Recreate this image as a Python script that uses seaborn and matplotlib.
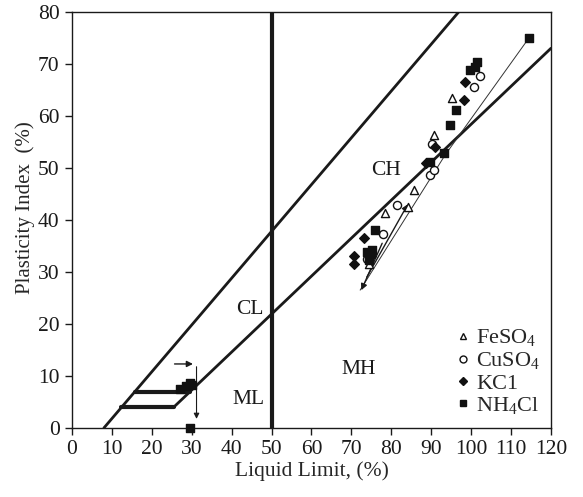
import numpy as np
import pandas as pd
import matplotlib
matplotlib.use("Agg")
import matplotlib.pyplot as plt
import seaborn as sns
from matplotlib.lines import Line2D

# Data
feso4_ll = [74.5, 78.4, 84.3, 85.7, 90.6, 95.2]
feso4_pi = [31.5, 41.3, 42.5, 45.8, 56.3, 63.4]

cuso4_ll = [74.0, 78.0, 81.5, 89.7, 90.6, 90.1, 100.8, 102.3]
cuso4_pi = [32.5, 37.2, 42.9, 48.7, 49.6, 54.6, 65.6, 67.7]

kcl_ll = [70.7, 70.7, 73.2, 75.0, 88.8, 91.0, 98.2, 98.5]
kcl_pi = [33.1, 31.5, 36.5, 33.0, 51.0, 54.0, 63.1, 66.6]

nh4cl_ll = [73.9, 75.1, 74.3, 75.9, 89.7, 93.1, 94.7, 96.2, 99.7, 101.4, 101.0,
            114.5, 27.0, 28.5, 29.5, 30.0, 29.5]
nh4cl_pi = [33.9, 34.2, 32.3, 38.1, 51.2, 52.8, 58.3, 61.2, 68.8, 70.4, 69.5,
            75.0, 7.5, 8.0, 8.7, 8.2, 0.0]

series_names = ["FeSO4", "CuSO4", "KC1", "NH4Cl"]
legend_labels = [r"FeSO$_4$", r"CuSO$_4$", "KC1", r"NH$_4$Cl"]

# chart lines
u_line_ll = [8, 96.9]
u_line_pi = [0, 80]
a_line_ll = [25.5, 120]
a_line_pi = [4.0, 73.0]
zone_low_ll = [12.4, 25.5]
zone_high_ll = [15.8, 29.6]

df = pd.concat([
    pd.DataFrame({"LL": feso4_ll, "PI": feso4_pi, "salt": "FeSO4"}),
    pd.DataFrame({"LL": cuso4_ll, "PI": cuso4_pi, "salt": "CuSO4"}),
    pd.DataFrame({"LL": kcl_ll, "PI": kcl_pi, "salt": "KC1"}),
    pd.DataFrame({"LL": nh4cl_ll, "PI": nh4cl_pi, "salt": "NH4Cl"}),
], ignore_index=True)

sns.set_style("ticks")
plt.rcParams["font.family"] = ["Liberation Serif", "DejaVu Serif"]
plt.rcParams["mathtext.fontset"] = "custom"
plt.rcParams["mathtext.rm"] = "Liberation Serif"

fig = plt.figure(figsize=(5.83, 4.97), dpi=100)
ax = fig.add_axes([0.1235, 0.139, 0.8215, 0.837])

# classification lines
ax.plot(u_line_ll, u_line_pi, color="#1a1a1a", lw=2.0, zorder=2)
ax.plot(a_line_ll, a_line_pi, color="#1a1a1a", lw=2.0, zorder=2)
ax.plot(zone_low_ll, [4, 4], color="#1a1a1a", lw=3.0, zorder=2)
ax.plot(zone_high_ll, [7, 7], color="#1a1a1a", lw=3.0, zorder=2)
ax.plot([50, 50], [0, 80], color="#1a1a1a", lw=3.0, zorder=2)

# thin trend lines / arrows
ax.plot([114.5, 93.5, 72.2], [75.0, 52.5, 26.5], color="#333333", lw=0.7, zorder=2)
ax.annotate("", xy=(72.2, 26.0), xytext=(78, 36),
            arrowprops=dict(arrowstyle="-|>", color="#1a1a1a", lw=1.0, mutation_scale=9))
ax.annotate("", xy=(84.5, 43.5), xytext=(73.5, 28.5),
            arrowprops=dict(arrowstyle="-|>", color="#1a1a1a", lw=1.0, mutation_scale=9))
ax.annotate("", xy=(31.0, 12.3), xytext=(25.0, 12.3),
            arrowprops=dict(arrowstyle="-|>", color="#1a1a1a", lw=1.0, mutation_scale=9))
ax.annotate("", xy=(31.2, 1.2), xytext=(31.2, 12.3),
            arrowprops=dict(arrowstyle="-|>", color="#1a1a1a", lw=0.8, mutation_scale=8))

markers = {"FeSO4": "^", "CuSO4": "o", "KC1": "D", "NH4Cl": "s"}
sizes_map = {"FeSO4": 34, "CuSO4": 34, "KC1": 24, "NH4Cl": 40}
for name in series_names:
    sub = df[df["salt"] == name]
    filled = name in ("KC1", "NH4Cl")
    sns.scatterplot(data=sub, x="LL", y="PI", marker=markers[name], s=sizes_map[name],
                    facecolor="#111111" if filled else "white",
                    edgecolor="#111111", linewidth=1.0, ax=ax, zorder=4,
                    clip_on=False, legend=False)

# region labels
for txt, x, y in [("CH", 78.7, 49.6), ("CL", 44.6, 22.7), ("MH", 71.7, 11.2), ("ML", 44.1, 5.4)]:
    ax.text(x, y, txt, fontsize=15.5, ha="center", va="center", color="#1a1a1a")

ax.set_xlim(0, 120)
ax.set_ylim(0, 80)
ax.set_xticks(np.arange(0, 121, 10))
ax.set_yticks(np.arange(0, 81, 10))
ax.tick_params(direction="out", length=5, width=1, labelsize=15.5, colors="#1a1a1a", pad=4)
for sp in ax.spines.values():
    sp.set_visible(True)
    sp.set_linewidth(1.0)
    sp.set_color("#1a1a1a")
ax.set_xlabel("Liquid Limit, (%)", fontsize=15.5, labelpad=1)
ax.set_ylabel("Plasticity Index  (%)", fontsize=15, labelpad=0)
ax.yaxis.set_label_coords(-0.077, 0.53)

handles = [
    Line2D([], [], ls="", marker="^", ms=5, mfc="white", mec="#111111", mew=1.0),
    Line2D([], [], ls="", marker="o", ms=5, mfc="white", mec="#111111", mew=1.0),
    Line2D([], [], ls="", marker="D", ms=4, mfc="#111111", mec="#111111"),
    Line2D([], [], ls="", marker="s", ms=5, mfc="#111111", mec="#111111"),
]
ax.legend(handles, legend_labels, loc="lower right", bbox_to_anchor=(1.01, -0.01),
          frameon=False, fontsize=16, handlelength=0.7, handletextpad=0.25,
          labelspacing=0.05, borderaxespad=0.3)

fig.savefig("out.png", dpi=100)
